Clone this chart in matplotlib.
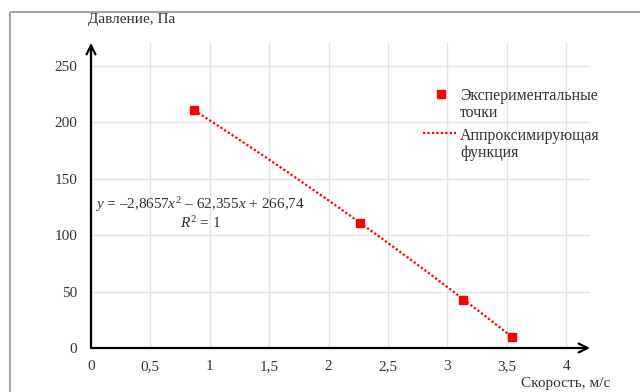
import numpy as np
import matplotlib
matplotlib.use("Agg")
import matplotlib.pyplot as plt
from matplotlib.lines import Line2D
from matplotlib.patches import Rectangle

# Data
speed = [0.87, 2.26, 3.13, 3.54]
pressure = [210.5, 110.5, 42.5, 9.5]
x_ticks = [0, 0.5, 1, 1.5, 2, 2.5, 3, 3.5, 4]
x_tick_labels = ["0", "0,5", "1", "1,5", "2", "2,5", "3", "3,5", "4"]
y_ticks = [0, 50, 100, 150, 200, 250]
y_tick_labels = ["0", "50", "100", "150", "200", "250"]
fit_coeffs = [-2.8657, -62.355, 266.74]
legend_labels = [["Экспериментальные", "точки"], ["Аппроксимирующая", "функция"]]

plt.rcParams['font.family'] = ['Liberation Serif', 'DejaVu Serif']
plt.rcParams['mathtext.fontset'] = 'custom'
plt.rcParams['mathtext.rm'] = 'Liberation Serif'
plt.rcParams['mathtext.it'] = 'Liberation Serif:italic'

W, H = 640, 392
TXT = '#333333'
fig = plt.figure(figsize=(6.4, 3.92), dpi=100)
fig.patch.set_facecolor('white')

def fx(px):
    return px / W

def fy(py):
    return 1 - py / H

# outer border
fig.patches.append(Rectangle((fx(10), fy(12)), 1.2, -1.2, transform=fig.transFigure,
                             fill=False, edgecolor='#a6a6a6', linewidth=1.5, clip_on=False))

ax = fig.add_axes([fx(91), 44 / H, 499 / W, 305 / H])
ax.set_xlim(0, 4.2)
ax.set_ylim(0, 270)
for s in ax.spines.values():
    s.set_visible(False)
ax.set_xticks(x_ticks)
ax.set_xticklabels(x_tick_labels)
ax.set_yticks(y_ticks)
ax.set_yticklabels(y_tick_labels)
ax.tick_params(length=0, labelsize=11, colors=TXT)
ax.tick_params(axis='y', pad=10)
ax.tick_params(axis='x', pad=9)
ax.grid(True, color='#e3e3e3', linewidth=1)
ax.set_axisbelow(True)

# axis arrows
ax.annotate('', xy=(1, 0), xytext=(0, 0), xycoords='axes fraction',
            arrowprops=dict(arrowstyle='->', color='black', lw=1.6, mutation_scale=16, shrinkA=0, shrinkB=0))
ax.annotate('', xy=(0, 1), xytext=(0, 0), xycoords='axes fraction',
            arrowprops=dict(arrowstyle='->', color='black', lw=1.6, mutation_scale=16, shrinkA=0, shrinkB=0))

# trend line
xs = np.linspace(min(speed), max(speed), 200)
ax.plot(xs, np.polyval(fit_coeffs, xs), color='red', linestyle=(0, (1, 1)), linewidth=1.6, zorder=3)
ax.plot(speed, pressure, linestyle='none', marker='s', markersize=6, color='red', zorder=4)

# equation
ax.text(0.92, 127, r'$y$ = –2,8657$x^2$ – 62,355$x$ + 266,74', fontsize=11, va='center', ha='center', color=TXT)
ax.text(0.92, 111, r'$R^2$ = 1', fontsize=11, va='center', ha='center', color=TXT)

# legend (drawn manually to match layout)
fig.add_artist(Line2D([fx(441)], [fy(94)], linestyle='none', marker='s', markersize=6, color='red',
                      transform=fig.transFigure))
fig.add_artist(Line2D([fx(423), fx(456)], [fy(133), fy(133)], color='red', linestyle=(0, (1, 1)),
                      linewidth=1.6, transform=fig.transFigure))
for lines, ys in zip(legend_labels, [(96, 113), (136, 153)]):
    for t, y in zip(lines, ys):
        fig.text(fx(460), fy(y), t, fontsize=11.4, va='center', ha='left', color=TXT)

fig.text(fx(88), fy(20), 'Давление, Па', fontsize=11, va='center', ha='left', color=TXT)
fig.text(fx(521), fy(384), 'Скорость, м/с', fontsize=11, va='center', ha='left', color=TXT)

fig.savefig('out.png', dpi=100, facecolor='white')
